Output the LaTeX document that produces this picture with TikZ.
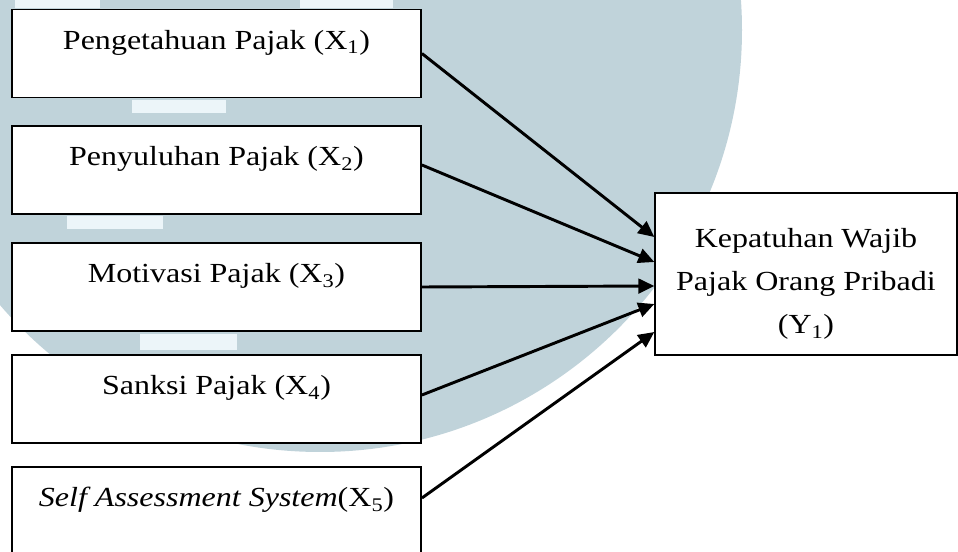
\documentclass[tikz,border=0pt]{standalone}
\usepackage{fontspec}
\setmainfont{Liberation Serif}[FakeStretch=1.16]
\usetikzlibrary{arrows.meta,calc}

\definecolor{wmblue}{RGB}{192,211,218}
\definecolor{wmlight}{RGB}{236,245,249}

\tikzset{every picture/.style={line width=0.75pt}}
\tikzset{
  labelfont/.style={font=\fontsize{20.7}{32.3}\selectfont},
  varbox/.style={draw=black, line width=1.4pt, fill=white, labelfont,
    minimum width=306.75pt, minimum height=66pt, inner sep=0pt,
    text height=15pt, text depth=21pt},
  depbox/.style={draw=black, line width=1pt, fill=white, labelfont, align=center,
    minimum width=226.5pt, minimum height=121.5pt, inner sep=0pt,
    text height=96pt, text depth=6pt},
  link/.style={line width=2.2pt, -{Triangle[length=12pt,width=11pt]}}
}

\begin{document}
\begin{tikzpicture}[x=0.75pt,y=0.75pt,yscale=-1,xscale=1]
        \useasboundingbox (0,0) rectangle (958,552);
        \begin{scope}
        \clip (0,0) rectangle (958,552);
        %Shape: Circle (background mark)
        \fill [wmblue] (320,30) circle [radius=422];
        %Shapes: Rectangles (light bands)
        \fill [wmlight] (15,0) rectangle (100,8);
        \fill [wmlight] (300,0) rectangle (393,8);
        \fill [wmlight] (132,100) rectangle (226,113);
        \fill [wmlight] (67,216) rectangle (163,229);
        \fill [wmlight] (140,334) rectangle (237,350);
        \end{scope}

        % Independent variables
        \node [varbox] (x1) at (216.5,53.5) {Pengetahuan Pajak (X\textsubscript{1})};
        \node [varbox] (x2) at (216.5,170) {Penyuluhan Pajak (X\textsubscript{2})};
        \node [varbox] (x3) at (216.5,287) {Motivasi Pajak (X\textsubscript{3})};
        \node [varbox] (x4) at (216.5,399) {Sanksi Pajak (X\textsubscript{4})};
        \node [varbox] (x5) at (216.5,511) {\textit{Self Assessment System}(X\textsubscript{5})};
        % Dependent variable
        \node [depbox] (y1) at (806,274) {Kepatuhan Wajib\\Pajak Orang Pribadi\\(Y\textsubscript{1})};

        %Straight Lines
        \draw [link] (x1.east) -- ($(y1.west)+(0,-37)$);
        \draw [link] ($(x2.east)+(0,-5)$) -- ($(y1.west)+(0,-12)$);
        \draw [link] (x3.east) -- ($(y1.west)+(0,12)$);
        \draw [link] ($(x4.east)+(0,-4)$) -- ($(y1.west)+(0,30)$);
        \draw [link] ($(x5.east)+(0,-13)$) -- ($(y1.west)+(0,58)$);
\end{tikzpicture}
\end{document}
